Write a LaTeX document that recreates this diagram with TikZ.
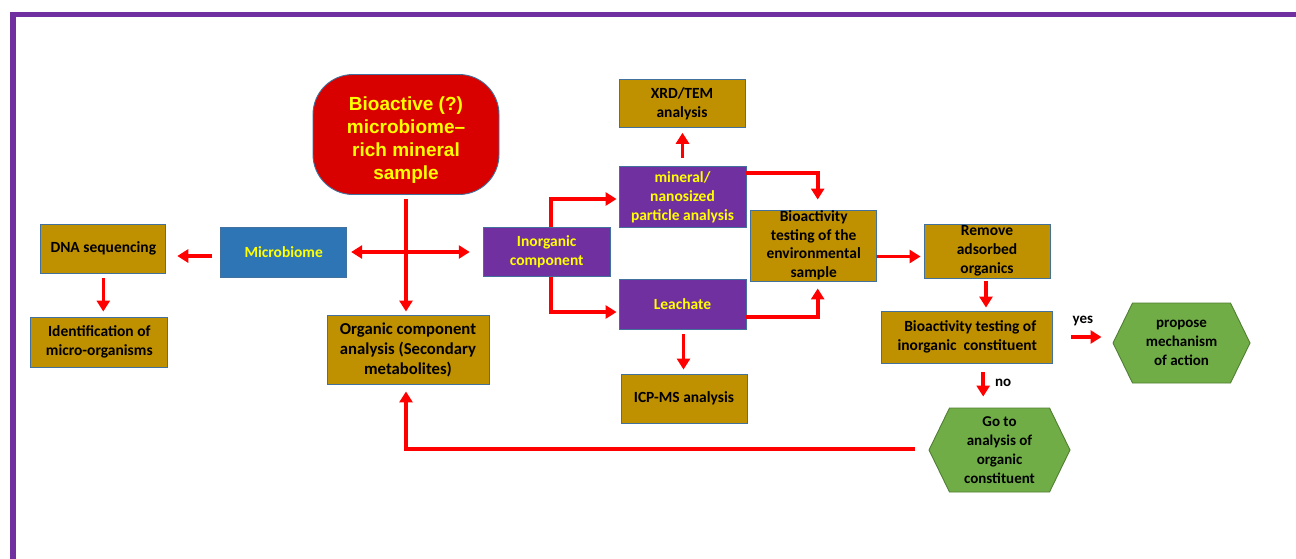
\documentclass[tikz,border=0pt]{standalone}
\usepackage{fontspec}
\setmainfont{Carlito}
\newfontfamily\arialfont{Liberation Sans}
\usetikzlibrary{arrows.meta,shapes.symbols}
\definecolor{gold}{HTML}{BF9000}
\definecolor{bord}{HTML}{41719C}
\definecolor{mblue}{HTML}{2E75B6}
\definecolor{mpurple}{HTML}{7030A0}
\definecolor{mred}{HTML}{D90000}
\definecolor{arred}{HTML}{FF0000}
\definecolor{mgreen}{HTML}{70AD47}
\definecolor{gbord}{HTML}{507E32}
\definecolor{tyellow}{HTML}{FFFF00}
\tikzset{
  box/.style={draw=bord, line width=0.9pt, fill=gold, align=center, inner sep=0pt,
    font=\bfseries\fontsize{15.5}{19}\selectfont, text=black},
  ybox/.style={box, text=tyellow},
  hexa/.style={shape=signal, signal to=west and east, signal pointer angle=128,
    draw=gbord, line width=0.9pt, fill=mgreen, align=center, inner sep=0pt,
    font=\bfseries\fontsize{15}{19}\selectfont},
  arr/.style={draw=arred, line width=3.6pt, -{Triangle[length=11pt,width=13pt]}},
  darr/.style={draw=arred, line width=3.6pt, {Triangle[length=11pt,width=13pt]}-{Triangle[length=11pt,width=13pt]}},
  lbl/.style={font=\bfseries\fontsize{15}{19}\selectfont, inner sep=0pt}
}
\begin{document}
\begin{tikzpicture}[x=1pt,y=-1pt]
\useasboundingbox (0,0) rectangle (1296,558);
\fill[white] (0,0) rectangle (1296,558);
% frame
\draw[mpurple, line width=5.5pt] (13,570) -- (13,14.5) -- (1310,14.5);

% nodes
\node[draw=bord, line width=0.9pt, fill=mred, rounded corners=40pt, minimum width=186pt, minimum height=120pt,
  inner sep=0pt, text=tyellow, font=\arialfont\bfseries\fontsize{19}{23}\selectfont]
  (bio) at (406,134.5) {\raisebox{-6pt}[\height][\depth]{\begin{tabular}{@{}c@{}}Bioactive (?)\\microbiome–\\rich mineral\\sample\end{tabular}}};
\node[box, minimum width=125pt, minimum height=49pt] (dna) at (103.3,248.5) {DNA sequencing};
\node[box, minimum width=137pt, minimum height=50pt] (ident) at (99.3,342) {Identification of\\micro-organisms};
\node[ybox, fill=mblue, minimum width=126pt, minimum height=50pt] (micro) at (283.7,252) {Microbiome};
\node[ybox, fill=mpurple, minimum width=127pt, minimum height=49pt] (inorg) at (546.7,252) {Inorganic\\component};
\node[box, minimum width=162pt, minimum height=69pt, font=\bfseries\fontsize{16.7}{20}\selectfont] (org) at (408,349.5) {Organic component\\analysis (Secondary\\metabolites)};
\node[box, minimum width=126pt, minimum height=48pt] (xrd) at (682,103.3) {XRD/TEM\\analysis};
\node[ybox, fill=mpurple, minimum width=127pt, minimum height=61pt] (mineral) at (682.5,197) {mineral/\\nanosized\\particle analysis};
\node[ybox, fill=mpurple, minimum width=127pt, minimum height=50pt] (leach) at (682.5,304) {Leachate};
\node[box, minimum width=126pt, minimum height=49pt] (icp) at (684,398.5) {ICP-MS analysis};
\node[box, minimum width=126pt, minimum height=71pt, font=\bfseries\fontsize{15.5}{18.5}\selectfont] (env) at (813.7,245.5) {Bioactivity\\testing of the\\environmental\\sample};
\node[box, minimum width=126pt, minimum height=54pt] (remove) at (987,251) {Remove\\adsorbed\\organics};
\node[box, minimum width=171pt, minimum height=52pt] (bioinorg) at (967.2,337) {\hspace*{6pt}Bioactivity testing of\\inorganic\ \ constituent};
\node[hexa, minimum width=137pt, minimum height=80pt] (prop) at (1181.5,343) {propose\\mechanism\\of action};
\node[hexa, minimum width=141pt, minimum height=84pt] (goto) at (999.5,450) {Go to\\analysis of\\organic\\constituent};

% connectors
\draw[arr, shorten <=4pt, shorten >=3pt] (bio.south) -- (bio.south |- org.north);
\draw[darr, shorten <=4pt, shorten >=13pt] (micro.east) -- (micro.east -| inorg.west);
\draw[arr, shorten <=8pt, shorten >=11pt] ([yshift=-4pt]micro.west) -- ([yshift=-4pt]micro.west -| dna.east);
\draw[arr, shorten <=5pt, shorten >=5pt] (dna.south) -- (dna.south |- ident.north);
\draw[arr, shorten >=2pt] ([xshift=4pt]inorg.north) |- ([yshift=-2pt]mineral.west);
\draw[arr, shorten >=2pt] ([xshift=4pt]inorg.south) |- ([yshift=-8pt]leach.west);
\draw[arr, shorten <=8pt, shorten >=5pt] (mineral.north) -- (mineral.north |- xrd.south);
\draw[arr, shorten >=10pt] ([yshift=24pt]mineral.east) -| ([xshift=4pt]env.north);
\draw[arr, shorten >=7pt] ([yshift=-13pt]leach.east) -| ([xshift=4pt]env.south);
\draw[arr, shorten <=5pt, shorten >=4pt] ([xshift=1pt]leach.south) -- ([xshift=1pt]leach.south |- icp.north);
\draw[arr, shorten >=3pt] ([yshift=-11pt]env.east) -- ([yshift=-11pt]env.east -| remove.west);
\draw[arr, shorten <=3pt, shorten >=3pt] ([xshift=-1pt]remove.south) -- ([xshift=-1pt]remove.south |- bioinorg.north);
\draw[arr, shorten <=18pt, shorten >=11pt] (bioinorg.east) -- (bioinorg.east -| prop.west)
  node[lbl, pos=0.5, above=9pt] (yes) {yes};
\draw[arr, shorten <=9pt, shorten >=11pt] ([xshift=16pt]bioinorg.south) -- ([xshift=16pt]bioinorg.south |- goto.north)
  node[lbl, pos=0.45, right=10pt] (no) {no};
\draw[arr, shorten <=14pt, shorten >=7pt] ([yshift=1pt]goto.west) -| ([xshift=-2pt]org.south);
\end{tikzpicture}
\end{document}
